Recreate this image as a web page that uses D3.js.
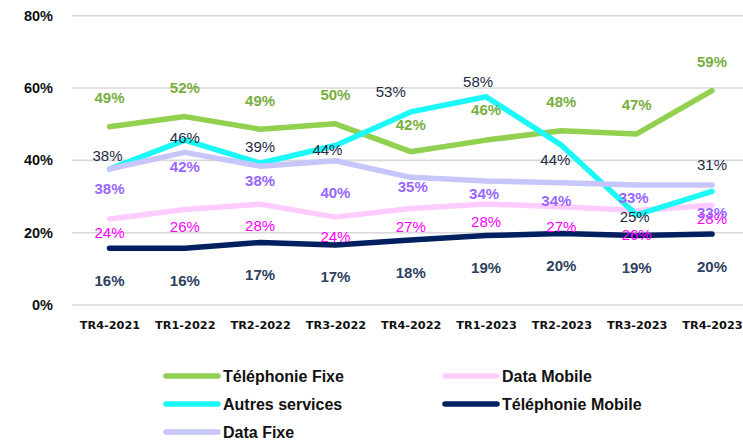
<!DOCTYPE html>
<html><head><meta charset="utf-8">
<script src="https://cdn.jsdelivr.net/npm/d3@7/dist/d3.min.js"></script>
<style>body{margin:0;background:#fff}svg{display:block}</style>
</head><body><svg id="c" width="743" height="441"></svg>
<script>
const categories = ["TR4-2021","TR1-2022","TR2-2022","TR3-2022","TR4-2022","TR1-2023","TR2-2023","TR3-2023","TR4-2023"];
const telephonieFixe   = [49.3,52.1,48.6,50.1,42.4,45.6,48.2,47.3,59.3];
const dataMobile       = [23.8,26.4,27.9,24.3,26.7,27.9,27.2,26.1,27.6];
const autresServices   = [37.6,45.6,39.2,44.1,53.4,57.6,44.2,24.9,31.4];
const telephonieMobile = [15.7,15.7,17.3,16.6,18.0,19.2,19.8,19.2,19.6];
const dataFixe         = [37.6,42.2,38.4,39.9,35.3,34.3,33.8,33.2,33.2];
const yTicks = [0,20,40,60,80];

// label placement (style/layout)
const labelLayout = {
  "Téléphonie Fixe":   {dy:[-29,-29,-29,-29,-27,-31,-29,-29,-29]},
  "Data Mobile":       {dy:[14,17,21,19,18,17,20,24,13]},
  "Autres services":   {dy:[-14,-3,-17,4,-20,-15,14,2,-27], dx:[-2,0,0,-8,-20,-8,-6,-2,0]},
  "Téléphonie Mobile": {dy:[32,32,32,32,33,32,32,32,32]},
  "Data Fixe":         {dy:[19,14,14,32,9,13,18,13,28], dx:[0,0,0,0,2,-2,-5,-3,0]}
};

const series = [
  {name:"Téléphonie Fixe", values:telephonieFixe, color:"#92D050", lab:"#78AE3E", weight:"bold"},
  {name:"Data Mobile", values:dataMobile, color:"#FFCCFF", lab:"#FF00FF", weight:"normal"},
  {name:"Autres services", values:autresServices, color:"#1CF7F7", lab:"#1E2B45", weight:"normal"},
  {name:"Téléphonie Mobile", values:telephonieMobile, color:"#002060", lab:"#2E4160", weight:"bold"},
  {name:"Data Fixe", values:dataFixe, color:"#C6C6FA", lab:"#9966FF", weight:"bold"}
];

const svg = d3.select("#c");
const x = d3.scalePoint().domain(categories).range([109.5, 712]);
const y = d3.scaleLinear().domain([0,80]).range([305, 15.7]);
const FONT = "'Liberation Sans', Arial, sans-serif";

// grid
svg.append("g").selectAll("line").data(yTicks).join("line")
  .attr("x1",72).attr("x2",743).attr("y1",d=>y(d)).attr("y2",d=>y(d))
  .attr("stroke","#D9D9D9").attr("stroke-width",1.6);

// y axis labels
const yAxis = d3.axisLeft(y).tickValues(yTicks).tickSize(0).tickPadding(0).tickFormat(d=>d+"%");
const ya = svg.append("g").attr("transform","translate(53,0)").call(yAxis);
ya.select(".domain").remove();
ya.selectAll("text").attr("font-family",FONT).attr("font-weight","bold").attr("font-size","14.5px").attr("fill","#111");

// x axis labels
const xAxis = d3.axisBottom(x).tickSize(0).tickPadding(0);
const xa = svg.append("g").attr("transform","translate(0,321)").call(xAxis);
xa.select(".domain").remove();
xa.selectAll("text").attr("font-family","'DejaVu Sans', sans-serif").attr("font-weight","bold").attr("font-size","11.3px").attr("fill","#111");

// lines
const line = d3.line().x((d,i)=>x(categories[i])).y(d=>y(d));
svg.append("g").selectAll("path").data(series).join("path")
  .attr("d",s=>line(s.values)).attr("fill","none").attr("stroke",s=>s.color)
  .attr("stroke-width",5.5).attr("stroke-linecap","round").attr("stroke-linejoin","round");

// labels
const fmt = d3.format(".0%");
series.forEach(s=>{
  const L = labelLayout[s.name];
  svg.append("g").selectAll("text").data(s.values).join("text")
    .attr("x",(d,i)=>x(categories[i]) + (L.dx?L.dx[i]:0))
    .attr("y",(d,i)=>y(d) + L.dy[i])
    .attr("text-anchor","middle").attr("dominant-baseline","central")
    .attr("font-family",FONT).attr("font-size","15px").attr("font-weight",s.weight)
    .attr("fill",s.lab).text(d=>fmt(d/100));
});

// legend
const legendPos = [[164,376],[443,376],[164,404],[443,404],[164,432]];
const lg = svg.append("g").selectAll("g").data(series).join("g")
  .attr("transform",(s,i)=>`translate(${legendPos[i][0]},${legendPos[i][1]})`);
lg.append("line").attr("x1",2).attr("x2",54).attr("stroke",s=>s.color)
  .attr("stroke-width",5.5).attr("stroke-linecap","round");
lg.append("text").attr("x",59).attr("dominant-baseline","central")
  .attr("font-family",FONT).attr("font-size","16px").attr("font-weight","bold")
  .attr("fill","#111").text(s=>s.name);
</script></body></html>
